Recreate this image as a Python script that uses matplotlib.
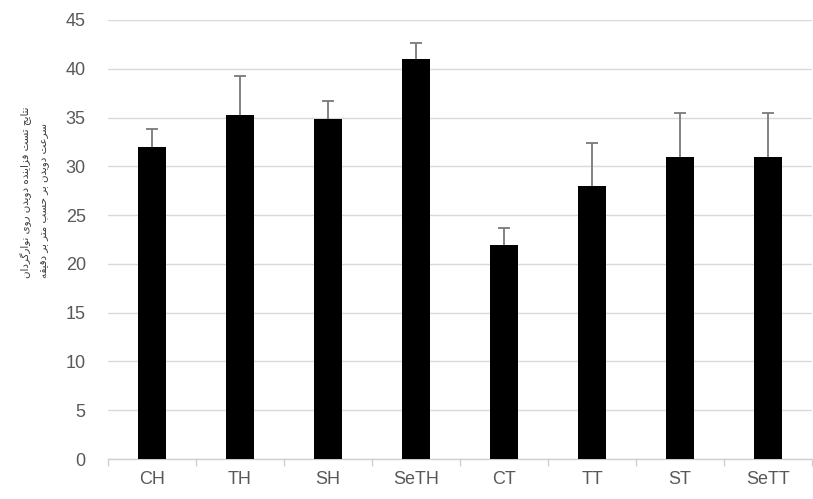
import matplotlib
matplotlib.use("Agg")
import matplotlib.pyplot as plt
import numpy as np

# Groups, mean running speed and upper error (SD)
groups = ["CH", "TH", "SH", "SeTH", "CT", "TT", "ST", "SeTT"]
means = [32.0, 35.3, 34.9, 41.0, 21.9, 28.0, 31.0, 31.0]
errors = [1.8, 4.0, 1.8, 1.6, 1.8, 4.4, 4.5, 4.5]
yticks = [0, 5, 10, 15, 20, 25, 30, 35, 40, 45]

ylabel_lines = [
    "نتایج تست فزاینده دویدن روی نوارگردان",
    "سرعت دویدن بر حسب متر بر دقیقه",
]

# Minimal Persian shaping: contextual presentation forms + visual reversal
FORMS = {
    # char: (isolated, final, initial, medial)  -- None where no form
    "ا": ("\uFE8D", "\uFE8E", None, None),
    "آ": ("\uFE81", "\uFE82", None, None),
    "ب": ("\uFE8F", "\uFE90", "\uFE91", "\uFE92"),
    "ت": ("\uFE95", "\uFE96", "\uFE97", "\uFE98"),
    "ج": ("\uFE9D", "\uFE9E", "\uFE9F", "\uFEA0"),
    "ح": ("\uFEA1", "\uFEA2", "\uFEA3", "\uFEA4"),
    "د": ("\uFEA9", "\uFEAA", None, None),
    "ر": ("\uFEAD", "\uFEAE", None, None),
    "ز": ("\uFEAF", "\uFEB0", None, None),
    "س": ("\uFEB1", "\uFEB2", "\uFEB3", "\uFEB4"),
    "ع": ("\uFEC9", "\uFECA", "\uFECB", "\uFECC"),
    "ف": ("\uFED1", "\uFED2", "\uFED3", "\uFED4"),
    "ق": ("\uFED5", "\uFED6", "\uFED7", "\uFED8"),
    "م": ("\uFEE1", "\uFEE2", "\uFEE3", "\uFEE4"),
    "ن": ("\uFEE5", "\uFEE6", "\uFEE7", "\uFEE8"),
    "ه": ("\uFEE9", "\uFEEA", "\uFEEB", "\uFEEC"),
    "و": ("\uFEED", "\uFEEE", None, None),
    "ی": ("\uFBFC", "\uFBFD", "\uFBFE", "\uFBFF"),
    "گ": ("\uFB92", "\uFB93", "\uFB94", "\uFB95"),
}


def dual(ch):
    return ch in FORMS and FORMS[ch][2] is not None


def shape(text):
    out = []
    for i, ch in enumerate(text):
        if ch not in FORMS:
            out.append(ch)
            continue
        prev = text[i - 1] if i > 0 else ""
        nxt = text[i + 1] if i + 1 < len(text) else ""
        join_prev = dual(prev)
        join_next = dual(ch) and nxt in FORMS
        iso, fin, ini, med = FORMS[ch]
        if join_prev and join_next:
            out.append(med)
        elif join_prev:
            out.append(fin)
        elif join_next:
            out.append(ini)
        else:
            out.append(iso)
    return "".join(out)[::-1]


plt.rcParams["font.family"] = ["Liberation Sans", "DejaVu Sans"]

fig = plt.figure(figsize=(8.13, 4.99), dpi=100)
ax = fig.add_axes([108 / 813, 40 / 499, 704 / 813, 439 / 499])

x = np.arange(len(groups))
ax.bar(x, means, width=0.32, color="black", zorder=3)
eb = ax.errorbar(x, means, yerr=[np.zeros(len(errors)), errors], fmt="none",
                 ecolor="#7a7a7a", elinewidth=1.3, capsize=4.6, capthick=1.3,
                 zorder=4)
# keep only the upper cap (the lower one sits on the bar top)
eb.lines[1][0].set_visible(False)

ax.set_xlim(-0.5, len(groups) - 0.5)
ax.set_ylim(0, 45)
ax.set_yticks(yticks)
ax.set_xticks(x)
ax.set_xticklabels(groups)
ax.set_xticks(np.arange(len(groups) + 1) - 0.5, minor=True)

ax.yaxis.grid(True, color="#d9d9d9", linewidth=1.0, zorder=0)
ax.set_axisbelow(True)
for side in ("left", "right", "top"):
    ax.spines[side].set_visible(False)
ax.spines["bottom"].set_color("#d0d0d0")
ax.spines["bottom"].set_linewidth(1.0)

ax.tick_params(axis="y", length=0, pad=16, labelsize=13, labelcolor="#595959")
ax.tick_params(axis="x", which="major", length=0, pad=9, labelsize=13, labelcolor="#595959")
ax.tick_params(axis="x", which="minor", length=5, color="#d0d0d0", width=1.0)

ylabel = "\n".join(shape(line) for line in ylabel_lines)
fig.text(35 / 813, 0.615, ylabel, rotation=90, ha="center", va="center",
         multialignment="left", fontsize=7.4, color="#383838",
         family=["DejaVu Sans"], linespacing=1.95)

fig.savefig("out.png", dpi=100)
